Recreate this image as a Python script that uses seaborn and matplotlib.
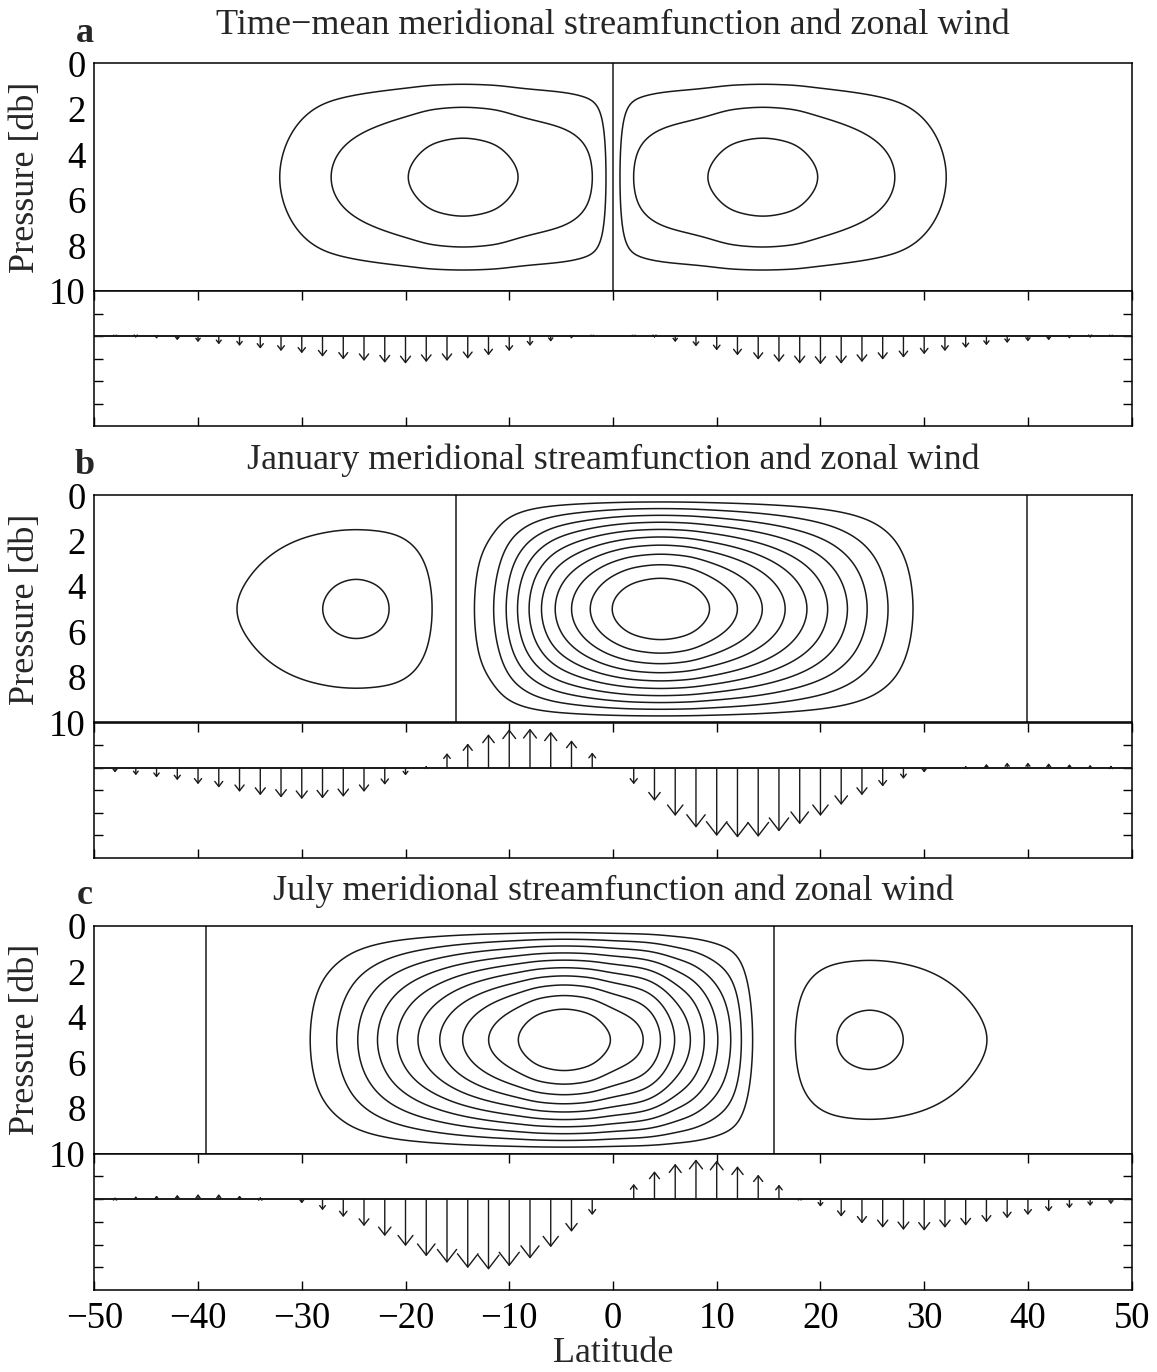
import numpy as np
import matplotlib.pyplot as plt
import seaborn as sns

# ------------------------------------------------------------------
#   data
# ------------------------------------------------------------------
titles = ['Time\u2212mean meridional streamfunction and zonal wind',
          'January meridional streamfunction and zonal wind',
          'July meridional streamfunction and zonal wind']
letters = ['a', 'b', 'c']

# vertical structure of the streamfunction (pressure in db -> relative amplitude)
p_knots = [0, 1, 2, 3, 4, 5, 6, 7, 8, 9, 10]
p_shape = [0, 0.31, 0.59, 0.81, 0.95, 1.0, 0.95, 0.81, 0.59, 0.31, 0]

# streamfunction amplitude at mid depth (contour units) vs latitude
a_lat = [-50, -40, -35, -32.1, -27.2, -19.7, -17.05, -14.45, -11.85, -9.2, -1.8, -0.5, 0,
         0.5, 1.8, 9.2, 11.85, 14.45, 17.05, 19.7, 27.2, 32.1, 35, 40, 50]
a_psi = [-0.15, -0.35, -0.6, -1, -2, -3, -3.38, -3.5, -3.38, -3, -2, -1, 0,
         1, 2, 3, 3.38, 3.5, 3.38, 3, 2, 1, 0.6, 0.35, 0.15]

b_lat = [-50, -44, -36.2, -28.0, -26.35, -24.75, -23.15, -21.5, -17.4, -15.1,
         -13.4, -11.4, -10.3, -9.2, -8.1, -6.9, -5.6, -4.0, -2.2, -0.1,
         2.25, 4.6, 6.95, 9.3, 12.0, 14.4, 16.6, 18.7, 20.7, 22.6,
         24.5, 26.5, 28.9, 31.0, 34.0, 39.9, 45, 50]
b_psi = [-0.35, -0.6, -1, -2, -2.14, -2.19, -2.14, -2, -1, 0,
         1, 2, 3, 4, 5, 6, 7, 8, 9, 10,
         10.75, 11, 10.75, 10, 9, 8, 7, 6, 5, 4,
         3, 2, 1, 0.4, 0.15, 0, -0.05, -0.05]

c_lat = [-50, -44, -39.2, -34.0, -31.0, -29.2, -26.6, -24.6, -22.7, -20.8,
         -18.8, -16.7, -14.5, -12.0, -9.1, -6.9, -4.7, -2.5, -0.3, 3.0,
         4.6, 5.9, 7.5, 8.8, 10.1, 11.4, 12.4, 13.3, 15.6, 17.5,
         21.5, 23.15, 24.75, 26.35, 28.0, 36.0, 44, 50]
c_psi = [0.05, 0.05, 0, -0.15, -0.4, -1, -2, -3, -4, -5,
         -6, -7, -8, -9, -10, -10.75, -11, -10.75, -10, -9,
         -8, -7, -6, -5, -4, -3, -2, -1, 0, 1,
         2, 2.14, 2.19, 2.14, 2, 1, 0.6, 0.35]

# zonal wind arrows, every 2 degrees from 48S to 48N
wind_lat = np.arange(-48, 49, 2)
a_wind = [-0.03, -0.07, -0.12, -0.19, -0.27, -0.37, -0.44, -0.56, -0.67, -0.77,
          -0.92, -1.04, -1.11, -1.19, -1.23, -1.16, -1.11, -1.01, -0.86, -0.67,
          -0.44, -0.25, -0.12, -0.03, 0,
          -0.03, -0.07, -0.27, -0.46, -0.64, -0.86, -1.05, -1.16, -1.23, -1.26,
          -1.23, -1.16, -1.05, -0.96, -0.81, -0.67, -0.53, -0.41, -0.31, -0.24,
          -0.19, -0.12, -0.07, -0.03]
b_wind = [-0.22, -0.34, -0.44, -0.56, -0.74, -0.89, -1.08, -1.23, -1.33, -1.40,
          -1.37, -1.30, -1.08, -0.76, -0.35, 0.07, 0.64, 1.07, 1.48, 1.70,
          1.73, 1.59, 1.21, 0.67, 0,
          -0.74, -1.48, -2.15, -2.67, -3.04, -3.11, -3.08, -2.84, -2.52, -2.15,
          -1.66, -1.23, -0.84, -0.50, -0.22, 0, 0.07, 0.16, 0.22, 0.22,
          0.19, 0.15, 0.12, 0.09]
c_wind = [0.07, 0.13, 0.16, 0.19, 0.22, 0.22, 0.16, 0.09, 0, -0.19,
          -0.49, -0.79, -1.19, -1.63, -2.07, -2.52, -2.81, -3.04, -3.11, -2.96,
          -2.62, -2.12, -1.44, -0.70, 0,
          0.67, 1.23, 1.56, 1.75, 1.70, 1.45, 1.08, 0.64, 0.04, -0.33,
          -0.77, -1.07, -1.26, -1.36, -1.39, -1.26, -1.17, -1.02, -0.84, -0.70,
          -0.55, -0.40, -0.30, -0.22]

panels = [(a_lat, a_psi, a_wind), (b_lat, b_psi, b_wind), (c_lat, c_psi, c_wind)]


# monotone cubic interpolation (pchip) for the latitude profiles
def pchip(xk, yk, x):
    xk = np.asarray(xk, float)
    yk = np.asarray(yk, float)
    h = np.diff(xk)
    d = np.diff(yk) / h
    m = np.zeros_like(yk)
    m[0], m[-1] = d[0], d[-1]
    for i in range(1, len(xk) - 1):
        if d[i - 1] * d[i] > 0:
            w1 = 2 * h[i] + h[i - 1]
            w2 = h[i] + 2 * h[i - 1]
            m[i] = (w1 + w2) / (w1 / d[i - 1] + w2 / d[i])
    i = np.clip(np.searchsorted(xk, x) - 1, 0, len(xk) - 2)
    t = (x - xk[i]) / h[i]
    return (yk[i] * (2 * t**3 - 3 * t**2 + 1) + m[i] * h[i] * (t**3 - 2 * t**2 + t)
            + yk[i + 1] * (-2 * t**3 + 3 * t**2) + m[i + 1] * h[i] * (t**3 - t**2))


# natural cubic spline for the (smooth) vertical profile
def spline(xk, yk, x):
    xk = np.asarray(xk, float)
    yk = np.asarray(yk, float)
    n = len(xk)
    h = np.diff(xk)
    A = np.zeros((n, n))
    r = np.zeros(n)
    A[0, 0] = A[-1, -1] = 1
    for i in range(1, n - 1):
        A[i, i - 1], A[i, i], A[i, i + 1] = h[i - 1], 2 * (h[i - 1] + h[i]), h[i]
        r[i] = 6 * ((yk[i + 1] - yk[i]) / h[i] - (yk[i] - yk[i - 1]) / h[i - 1])
    M = np.linalg.solve(A, r)
    i = np.clip(np.searchsorted(xk, x) - 1, 0, n - 2)
    t0 = x - xk[i]
    t1 = xk[i + 1] - x
    hi = h[i]
    return (M[i] * t1**3 / (6 * hi) + M[i + 1] * t0**3 / (6 * hi)
            + (yk[i] / hi - M[i] * hi / 6) * t1 + (yk[i + 1] / hi - M[i + 1] * hi / 6) * t0)


def smooth(y, step, sigma):
    r = int(4 * sigma / step)
    k = np.exp(-0.5 * (np.arange(-r, r + 1) * step / sigma) ** 2)
    k /= k.sum()
    return np.convolve(np.pad(y, r, mode='edge'), k, mode='valid')


# ------------------------------------------------------------------
#   style
# ------------------------------------------------------------------
sns.set_theme(style='white')
plt.rcParams['font.family'] = ['Liberation Serif', 'DejaVu Serif']
plt.rcParams['axes.edgecolor'] = 'black'
plt.rcParams['axes.linewidth'] = 1.1
plt.rcParams['xtick.color'] = 'black'
plt.rcParams['ytick.color'] = 'black'

fig = plt.figure(figsize=(11.57, 13.72), dpi=100)

left, width = 0.0815, 0.8966
# (contour bottom, contour height, strip bottom, strip height) in figure fraction
boxes = [(0.78790, 0.16596, 0.68950, 0.09840),
         (0.47340, 0.16553, 0.37485, 0.09854),
         (0.15911, 0.16596, 0.05977, 0.09934)]
title_y = [1 - 25 / 1372, 1 - 460 / 1372, 1 - 891 / 1372]
letter_y = [1 - 33 / 1372, 1 - 466 / 1372, 1 - 896 / 1372]

dlat = 0.125
lat_f = np.arange(-50, 50 + dlat / 2, dlat)
p_f = np.linspace(0, 10, 301)
G = spline(p_knots, p_shape, p_f)
levels = [k for k in range(-10, 11) if k != 0]
px_per_unit = 22.5  # pixels per wind unit in the strip

for n, (lat_k, psi_k, wind) in enumerate(panels):
    cb, ch, sb, sh = boxes[n]

    # streamfunction contours
    ax = fig.add_axes([left, cb, width, ch])
    F = smooth(pchip(lat_k, psi_k, lat_f), dlat, 0.6)
    psi = np.outer(G, F)
    ax.contour(lat_f, p_f, psi, levels=levels, colors='k',
               linestyles='solid', linewidths=1.1)
    # zero streamline (vertical dividing line)
    ax.contour(lat_f, p_f, np.tile(F, (len(p_f), 1)), levels=[0],
               colors='k', linestyles='solid', linewidths=1.1)
    ax.set_xlim(-50, 50)
    ax.set_ylim(10, 0)
    ax.set_xticks([])
    ax.set_yticks([0, 2, 4, 6, 8, 10])
    ax.tick_params(axis='y', labelsize=26.5, direction='in',
                   length=5 if n == 2 else 0, width=1, pad=6)
    ax.set_ylabel('Pressure [db]', fontsize=26, labelpad=5)

    fig.text(left + width / 2, title_y[n], titles[n], fontsize=26,
             ha='center', va='center')
    fig.text(85 / 1157, letter_y[n], letters[n], fontsize=26,
             fontweight='bold', ha='center', va='center')

    # zonal wind strip
    sx = fig.add_axes([left, sb, width, sh])
    sx.set_xlim(-50, 50)
    sx.set_ylim(-4, 2)
    sx.axhline(0, color='k', lw=1.4)
    for lat, u in zip(wind_lat, wind):
        if u == 0:
            continue
        L = abs(u) * px_per_unit * 0.72
        hl = min(0.17 * L + 1.2, L)
        hw = 0.13 * L + 1.0
        style = f'->,head_length={hl:.3f},head_width={hw:.3f}'
        sx.annotate('', xy=(lat, u), xytext=(lat, 0),
                    arrowprops=dict(arrowstyle=style, mutation_scale=1, lw=1.0,
                                    color='k', shrinkA=0, shrinkB=0))
    sx.set_xticks(np.arange(-50, 51, 10))
    sx.set_yticks([-3, -2, -1, 0, 1])
    sx.set_yticklabels([])
    sx.tick_params(axis='both', direction='in', length=6.5, width=1,
                   top=True, bottom=True, left=True, right=True)
    if n < 2:
        sx.set_xticklabels([])
    else:
        sx.tick_params(axis='x', labelsize=26.5, pad=8)
        sx.set_xlabel('Latitude', fontsize=26, labelpad=1)

fig.savefig('out.png', dpi=100)
